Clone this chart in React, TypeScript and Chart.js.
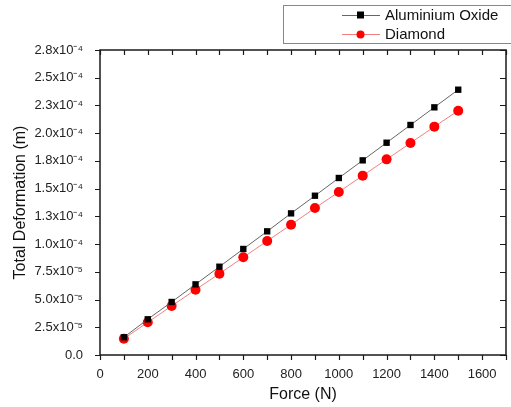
import React, { useEffect, useRef } from "react";
import { Chart, registerables } from "chart.js";

Chart.register(...registerables);

const forces = [100, 200, 300, 400, 500, 600, 700, 800, 900, 1000, 1100, 1200, 1300, 1400, 1500];
const aluminiumOxide = [1.6e-5, 3.22e-5, 4.78e-5, 6.37e-5, 7.96e-5, 9.56e-5, 1.115e-4, 1.277e-4, 1.436e-4, 1.596e-4, 1.755e-4, 1.914e-4, 2.074e-4, 2.233e-4, 2.392e-4];
const diamond = [1.47e-5, 2.95e-5, 4.42e-5, 5.89e-5, 7.33e-5, 8.81e-5, 1.028e-4, 1.175e-4, 1.325e-4, 1.47e-4, 1.617e-4, 1.764e-4, 1.911e-4, 2.059e-4, 2.203e-4];
const xTickValues = [0, 200, 400, 600, 800, 1000, 1200, 1400, 1600];
const xMinorTicks = [0, 100, 200, 300, 400, 500, 600, 700, 800, 900, 1000, 1100, 1200, 1300, 1400, 1500, 1600, 1700];
const yTickValues = [0, 2.5e-5, 5e-5, 7.5e-5, 1e-4, 1.25e-4, 1.5e-4, 1.75e-4, 2e-4, 2.25e-4, 2.5e-4, 2.75e-4];
const yTickLabels = ["0.0", "2.5x10⁻⁵", "5.0x10⁻⁵", "7.5x10⁻⁵", "1.0x10⁻⁴", "1.3x10⁻⁴", "1.5x10⁻⁴", "1.8x10⁻⁴", "2.0x10⁻⁴", "2.3x10⁻⁴", "2.5x10⁻⁴", "2.8x10⁻⁴"];
const seriesNames = ["Aluminium Oxide", "Diamond"];
const xTitle = "Force (N)";
const yTitle = "Total Deformation (m)";

const FONT = '"Liberation Sans", Arial, sans-serif';

const framePlugin = {
  id: "frame",
  afterDraw(chart: any) {
    const ctx = chart.ctx as CanvasRenderingContext2D;
    const { left, right, top, bottom } = chart.chartArea;
    const xs = chart.scales.x;
    const ys = chart.scales.y;
    ctx.save();
    ctx.strokeStyle = "#1a1a1a";
    ctx.lineWidth = 1.5;
    ctx.strokeRect(left, top, right - left, bottom - top);
    ctx.lineWidth = 1.2;
    ctx.beginPath();
    for (const v of xMinorTicks) {
      const px = Math.round(xs.getPixelForValue(v)) + 0.5;
      ctx.moveTo(px, bottom);
      ctx.lineTo(px, bottom + 5);
      ctx.moveTo(px, top);
      ctx.lineTo(px, top + 5);
    }
    for (const v of yTickValues) {
      const py = Math.round(ys.getPixelForValue(v)) + 0.5;
      ctx.moveTo(left, py);
      ctx.lineTo(left - 5, py);
      ctx.moveTo(right, py);
      ctx.lineTo(right - 6, py);
    }
    ctx.stroke();

    // axis titles
    ctx.fillStyle = "#111";
    ctx.font = `16px ${FONT}`;
    ctx.textAlign = "center";
    ctx.textBaseline = "middle";
    ctx.fillText(xTitle, (left + right) / 2, 395);
    ctx.save();
    ctx.translate(21, (top + bottom) / 2);
    ctx.rotate(-Math.PI / 2);
    ctx.fillText(yTitle, 0, 0);
    ctx.restore();

    // legend
    ctx.strokeStyle = "#888";
    ctx.lineWidth = 1;
    ctx.strokeRect(283.5, 5.5, 240, 38);
    const rows = [15, 34];
    chart.data.datasets.forEach((ds: any, i: number) => {
      const y = rows[i];
      ctx.strokeStyle = ds.borderColor;
      ctx.lineWidth = 1;
      ctx.beginPath();
      ctx.moveTo(342, y + 0.5);
      ctx.lineTo(380, y + 0.5);
      ctx.stroke();
      ctx.fillStyle = ds.pointBackgroundColor;
      if (ds.pointStyle === "rect") {
        ctx.fillRect(357, y - 3.5, 7, 7);
      } else {
        ctx.beginPath();
        ctx.arc(360.5, y + 0.5, 4, 0, Math.PI * 2);
        ctx.fill();
      }
      ctx.fillStyle = "#111";
      ctx.font = `15px ${FONT}`;
      ctx.textAlign = "left";
      ctx.textBaseline = "middle";
      ctx.fillText(ds.label, 385, y + 1);
    });
    ctx.restore();
  },
};

export default function App() {
  const ref = useRef<HTMLCanvasElement | null>(null);
  useEffect(() => {
    if (!ref.current) return;
    const chart = new Chart(ref.current, {
      type: "line",
      data: {
        datasets: [
          {
            label: seriesNames[0],
            data: forces.map((f, i) => ({ x: f, y: aluminiumOxide[i] })),
            borderColor: "#666666",
            borderWidth: 1,
            pointStyle: "rect",
            pointRadius: 4.5,
            pointBackgroundColor: "#000000",
            pointBorderColor: "#000000",
            pointBorderWidth: 0,
          },
          {
            label: seriesNames[1],
            data: forces.map((f, i) => ({ x: f, y: diamond[i] })),
            borderColor: "#f08080",
            borderWidth: 1,
            pointStyle: "circle",
            pointRadius: 5,
            pointBackgroundColor: "#ff0000",
            pointBorderColor: "#ff0000",
            pointBorderWidth: 0,
          },
        ],
      },
      options: {
        animation: false,
        responsive: false,
        layout: { padding: { left: 0, top: 50, right: 5, bottom: 0 } },
        plugins: { legend: { display: false }, tooltip: { enabled: false } },
        scales: {
          x: {
            type: "linear",
            min: 0,
            max: 1700,
            afterFit: (s: any) => { s.height = 52; },
            afterBuildTicks: (s: any) => { s.ticks = xTickValues.map((v) => ({ value: v })); },
            grid: { display: false },
            border: { display: false },
            ticks: {
              color: "#222",
              font: { family: FONT, size: 13 },
              padding: 4,
              maxRotation: 0,
              callback: (v: any) => String(v),
            },
          },
          y: {
            type: "linear",
            min: 0,
            max: 2.75e-4,
            afterFit: (s: any) => { s.width = 100; },
            afterBuildTicks: (s: any) => { s.ticks = yTickValues.map((v) => ({ value: v })); },
            grid: { display: false },
            border: { display: false },
            ticks: {
              color: "#222",
              font: { family: FONT, size: 13 },
              padding: 9,
              callback: (v: any) => {
                const i = yTickValues.findIndex((t) => Math.abs(t - v) < 1e-9);
                return i >= 0 ? yTickLabels[i] : "";
              },
            },
          },
        },
      },
      plugins: [framePlugin],
    });
    return () => chart.destroy();
  }, []);
  return (
    <div style={{ position: "fixed", left: 0, top: 0, width: 511, height: 407, background: "#fff" }}>
      <canvas ref={ref} width={511} height={407} style={{ display: "block" }} />
    </div>
  );
}
